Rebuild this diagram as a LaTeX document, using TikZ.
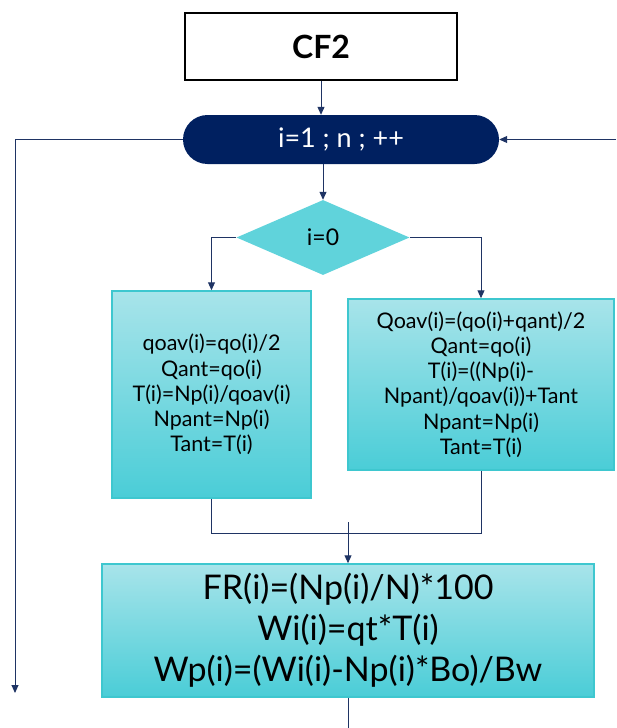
\documentclass[tikz,border=0pt]{standalone}
\usepackage{fontspec}
\setmainfont{Lato}
\usetikzlibrary{arrows.meta,positioning,shapes.geometric,shapes.misc}
\definecolor{loopnavy}{RGB}{0,32,96}
\definecolor{linenavy}{RGB}{31,52,100}
\definecolor{calctop}{RGB}{168,228,234}
\definecolor{calcbot}{RGB}{74,205,215}
\definecolor{calcedge}{RGB}{62,199,207}
\definecolor{testfill}{RGB}{96,211,219}
\tikzset{
  flow/.style={-{Triangle[length=8pt,width=7pt]},draw=linenavy,line width=1pt},
  wire/.style={draw=linenavy,line width=1pt},
  titlebox/.style={draw=black,line width=1.8pt,fill=white,inner sep=0pt,
                   minimum width=272pt,minimum height=67pt,
                   font=\bfseries\fontsize{32}{36}\selectfont},
  loopbox/.style={rounded rectangle,fill=loopnavy,text=white,inner sep=0pt,
                  minimum width=316pt,minimum height=49pt,
                  font=\fontsize{27}{30}\selectfont},
  test/.style={diamond,fill=testfill,inner sep=0pt,
               minimum width=173pt,minimum height=75pt,
               font=\fontsize{23}{26}\selectfont},
  calc/.style={draw=calcedge,line width=1.5pt,top color=calctop,bottom color=calcbot,
               align=center,inner sep=0pt,font=\fontsize{21.5}{25.2}\selectfont},
  result/.style={calc,font=\fontsize{34}{41}\selectfont},
}
\begin{document}
\begin{tikzpicture}[x=1pt,y=-1pt]
  \useasboundingbox (0,0) rectangle (616,728);
  % blocks
  \node[titlebox] (cf2) at (321,46.5) {CF2};
  \node[loopbox] (loop) at (341,139.5) {i=1 ; n ; ++};
  \node[test] (test) at (323,237.5) {i=0};
  \node[calc,minimum width=199pt,minimum height=207pt] (first) at (211.5,394.5)
    {qoav(i)=qo(i)/2\\ Qant=qo(i)\\ T(i)=Np(i)/qoav(i)\\ Npant=Np(i)\\ Tant=T(i)};
  \node[calc,minimum width=266pt,minimum height=171pt] (next) at (481,384.5)
    {Qoav(i)=(qo(i)+qant)/2\\ Qant=qo(i)\\ T(i)=((Np(i)-\\ Npant)/qoav(i))+Tant\\
     Npant=Np(i)\\ Tant=T(i)};
  \node[result,minimum width=492pt,minimum height=133pt] (res) at (348,630.5)
    {FR(i)=(Np(i)/N)*100\\ Wi(i)=qt*T(i)\\ Wp(i)=(Wi(i)-Np(i)*Bo)/Bw};
  % free ends
  \coordinate (exitL) at (15,693);
  \coordinate (backR) at (616,139.5);
  \coordinate (join) at (348,533);
  \coordinate (jointop) at (348,522);
  \coordinate (exitB) at (348,728);
  % connectors
  \draw[flow] (cf2.south) -- (cf2.south |- loop.north);
  \draw[flow] (test.north |- loop.south) -- (test.north);
  \draw[flow] (loop.west) -| (exitL);
  \draw[flow] (backR) -- (loop.east);
  \draw[flow] (test.west) -| (first.north);
  \draw[flow] (test.east) -| (next.north);
  \draw[wire] (first.south) |- (next.south |- join) -- (next.south);
  \draw[flow] (jointop) -- (res.north);
  \draw[wire] (res.south) -- (exitB);
\end{tikzpicture}
\end{document}
